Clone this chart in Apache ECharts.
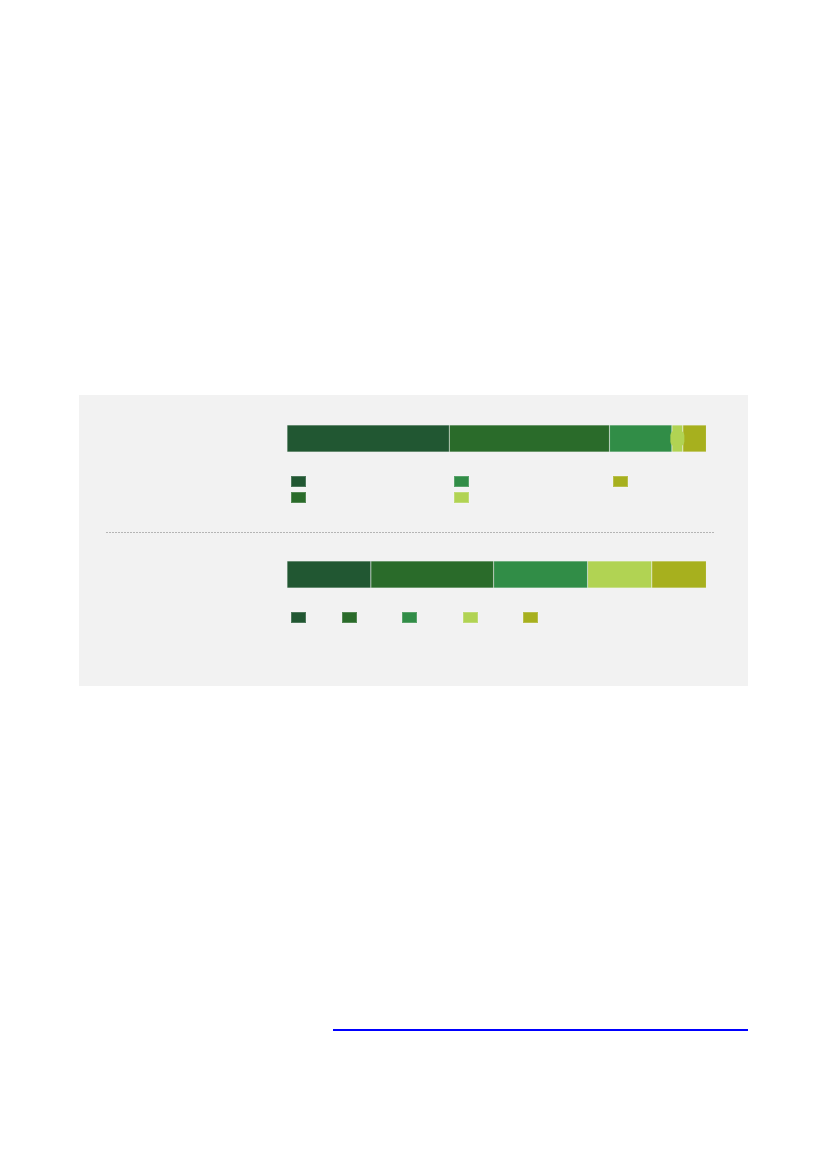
<!DOCTYPE html>
<html>
<head>
<meta charset="utf-8">
<script src="https://cdn.jsdelivr.net/npm/echarts@6/dist/echarts.min.js"></script>
<style>
    html, body { margin: 0; padding: 0; background: #ffffff; }
    #chart { width: 827px; height: 1169px; }
</style>
</head>
<body>
<div id="chart"></div>
<script>
    // 颜色（两根条共用）
    var colors = ['#215732', '#2a6b2a', '#318d47', '#b1d353', '#a7b01e'];

    // 上方条：各段占比（%）
    var topNames = ['A1', 'A2', 'A3', 'A4', 'A5'];
    var topValues = [38.7, 38.2, 14.9, 2.6, 5.6];

    // 下方条：各段占比（%）
    var bottomNames = ['B1', 'B2', 'B3', 'B4', 'B5'];
    var bottomValues = [20.0, 29.3, 22.4, 15.3, 13.0];

    var myChart = echarts.init(document.getElementById('chart'));

    function makeSeries(names, values, idx, stack) {
        return names.map(function (name, i) {
            var item = { value: values[i] };
            // 上方第四段很窄，原图上带一个圆角的小标签底
            if (stack === 'top' && i === 3) {
                item.label = {
                    show: true,
                    position: 'inside',
                    formatter: ' ',
                    backgroundColor: colors[i],
                    width: 14,
                    height: 16,
                    borderRadius: 5
                };
            }
            return {
                name: name,
                type: 'bar',
                stack: stack,
                xAxisIndex: idx,
                yAxisIndex: idx,
                barWidth: 27,
                silent: true,
                itemStyle: {
                    color: colors[i],
                    borderColor: 'rgba(255,255,255,0.2)',
                    borderWidth: 0.6
                },
                data: [item]
            };
        });
    }

    function legendOf(names, left, top, orient) {
        return {
            data: names,
            left: left,
            top: top,
            orient: orient || 'vertical',
            padding: 0,
            itemGap: 3,
            itemWidth: 15,
            itemHeight: 11,
            icon: 'rect',
            selectedMode: false,
            formatter: function () { return ''; },
            textStyle: { fontSize: 8, color: '#404040', fontFamily: 'Noto Sans' }
        };
    }

    var option = {
        backgroundColor: '#ffffff',
        animation: false,
        graphic: [
            {
                type: 'rect', z: -10,
                shape: { x: 79, y: 395, width: 669, height: 291 },
                style: { fill: '#f2f2f2' }
            },
            {
                type: 'line', z: -5,
                shape: { x1: 106, y1: 532.5, x2: 714, y2: 532.5 },
                style: { stroke: '#b5b5b5', lineWidth: 1, lineDash: [2, 1] }
            },
            {
                type: 'line',
                shape: { x1: 333, y1: 1030, x2: 748, y2: 1030 },
                style: { stroke: '#0000ff', lineWidth: 2 }
            }
        ],
        grid: [
            { left: 287, top: 425, width: 419.3, height: 27 },
            { left: 287, top: 561, width: 419.3, height: 27 }
        ],
        xAxis: [
            { type: 'value', gridIndex: 0, min: 0, max: 100, show: false },
            { type: 'value', gridIndex: 1, min: 0, max: 100, show: false }
        ],
        yAxis: [
            { type: 'category', gridIndex: 0, data: [''], show: false },
            { type: 'category', gridIndex: 1, data: [''], show: false }
        ],
        legend: [
            legendOf(topNames.slice(0, 2), 290, 475),
            legendOf(topNames.slice(2, 4), 453, 475),
            legendOf(topNames.slice(4, 5), 612, 475),
            legendOf([bottomNames[0]], 290, 611),
            legendOf([bottomNames[1]], 341, 611),
            legendOf([bottomNames[2]], 401, 611),
            legendOf([bottomNames[3]], 462, 611),
            legendOf([bottomNames[4]], 522, 611)
        ],
        series: makeSeries(topNames, topValues, 0, 'top')
            .concat(makeSeries(bottomNames, bottomValues, 1, 'bottom'))
    };

    myChart.setOption(option);
    window.addEventListener('resize', function () {
        myChart.resize();
    });
</script>
</body>
</html>
